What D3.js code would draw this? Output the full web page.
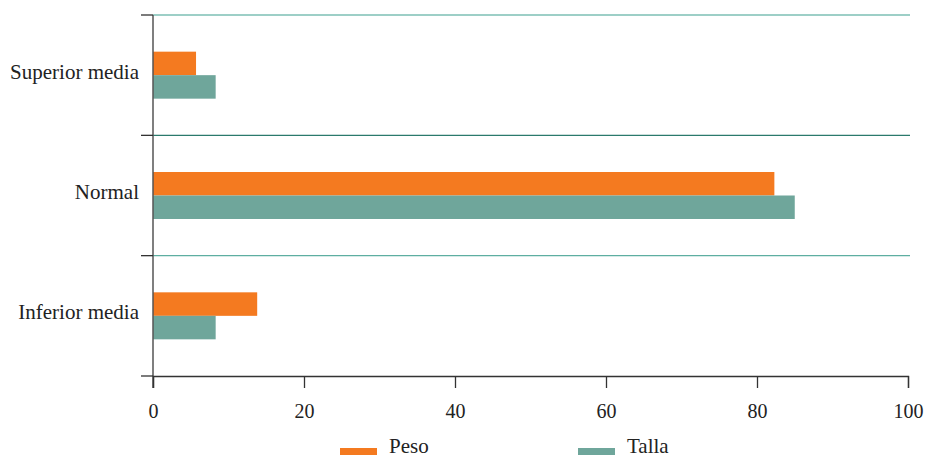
<!DOCTYPE html>
<html><head><meta charset="utf-8">
<script src="https://cdn.jsdelivr.net/npm/d3@7"></script>
<style>body{margin:0;background:#fff}svg{display:block}</style>
</head><body>
<svg id="c" width="925" height="457"></svg>
<script>
const categories = ["Superior media", "Normal", "Inferior media"];
const series = ["Peso", "Talla"];
const peso = [5.7, 82.3, 13.8];
const talla = [8.3, 85.0, 8.3];
const xTicks = [0, 20, 40, 60, 80, 100];
const colors = ["#F47A20", "#6FA69B"];

const svg = d3.select("#c");
const font = "'Liberation Serif', 'Times New Roman', serif";
const m = {l: 153, r: 908, t: 15, b: 376};
const x = d3.scaleLinear().domain([0, 100]).range([m.l, m.r]);
const y = d3.scaleBand().domain(categories).range([m.t, m.b]);
const barH = 23.5;
const data = categories.map((c, i) => ({c, vals: [peso[i], talla[i]]}));

// gridlines at category boundaries
const bounds = [y.range()[0], ...categories.slice(1).map(c => y(c))];
const gridColors = ["#7DBFB4", "#2B7A6C", "#5EAEA1"];
svg.selectAll("line.grid").data(bounds).enter().append("line")
  .attr("x1", m.l).attr("x2", 910)
  .attr("y1", d => d).attr("y2", d => d)
  .attr("stroke", (d, i) => gridColors[i]).attr("stroke-width", 1.3);

// bars
const g = svg.selectAll("g.cat").data(data).enter().append("g");
g.each(function(d) {
  const cy = y(d.c) + y.bandwidth() / 2;
  d3.select(this).selectAll("rect").data(d.vals).enter().append("rect")
    .attr("x", x(0))
    .attr("y", (v, j) => cy - barH + j * barH)
    .attr("width", v => x(v) - x(0))
    .attr("height", barH)
    .attr("fill", (v, j) => colors[j]);
});

// left axis line & boundary ticks
svg.append("line").attr("x1", m.l).attr("x2", m.l).attr("y1", m.t).attr("y2", m.b + 12)
  .attr("stroke", "#555").attr("stroke-width", 1.5);
svg.selectAll("line.lt").data([...bounds, m.b]).enter().append("line")
  .attr("x1", m.l - 12).attr("x2", m.l).attr("y1", d => d).attr("y2", d => d)
  .attr("stroke", "#333").attr("stroke-width", 1.3);

// category labels
svg.selectAll("text.cat").data(categories).enter().append("text")
  .attr("x", 139).attr("y", d => y(d) + y.bandwidth() / 2 + 3.5)
  .attr("text-anchor", "end")
  .attr("font-family", font).attr("font-size", 21).attr("fill", "#222")
  .text(d => d);

// bottom axis
const xa = svg.append("g").attr("transform", `translate(0,${m.b})`)
  .call(d3.axisBottom(x).tickValues(xTicks).tickSize(12).tickPadding(0));
xa.select(".domain").attr("stroke", "#333").attr("stroke-width", 1.3);
xa.selectAll(".tick line").attr("stroke", "#333").attr("stroke-width", 1.3);
xa.selectAll(".tick text").attr("dy", null).attr("y", 42)
  .attr("font-family", font).attr("font-size", 20).attr("fill", "#222");

// legend
const lx = [340, 578];
const lg = svg.selectAll("g.leg").data(series).enter().append("g")
  .attr("transform", (d, i) => `translate(${lx[i]},0)`);
lg.append("rect").attr("x", 0).attr("y", 448).attr("width", 37).attr("height", 7)
  .attr("fill", (d, i) => colors[i]);
lg.append("text").attr("x", 49).attr("y", 452.5)
  .attr("font-family", font).attr("font-size", 21).attr("fill", "#222")
  .text(d => d);
</script>
</body></html>
